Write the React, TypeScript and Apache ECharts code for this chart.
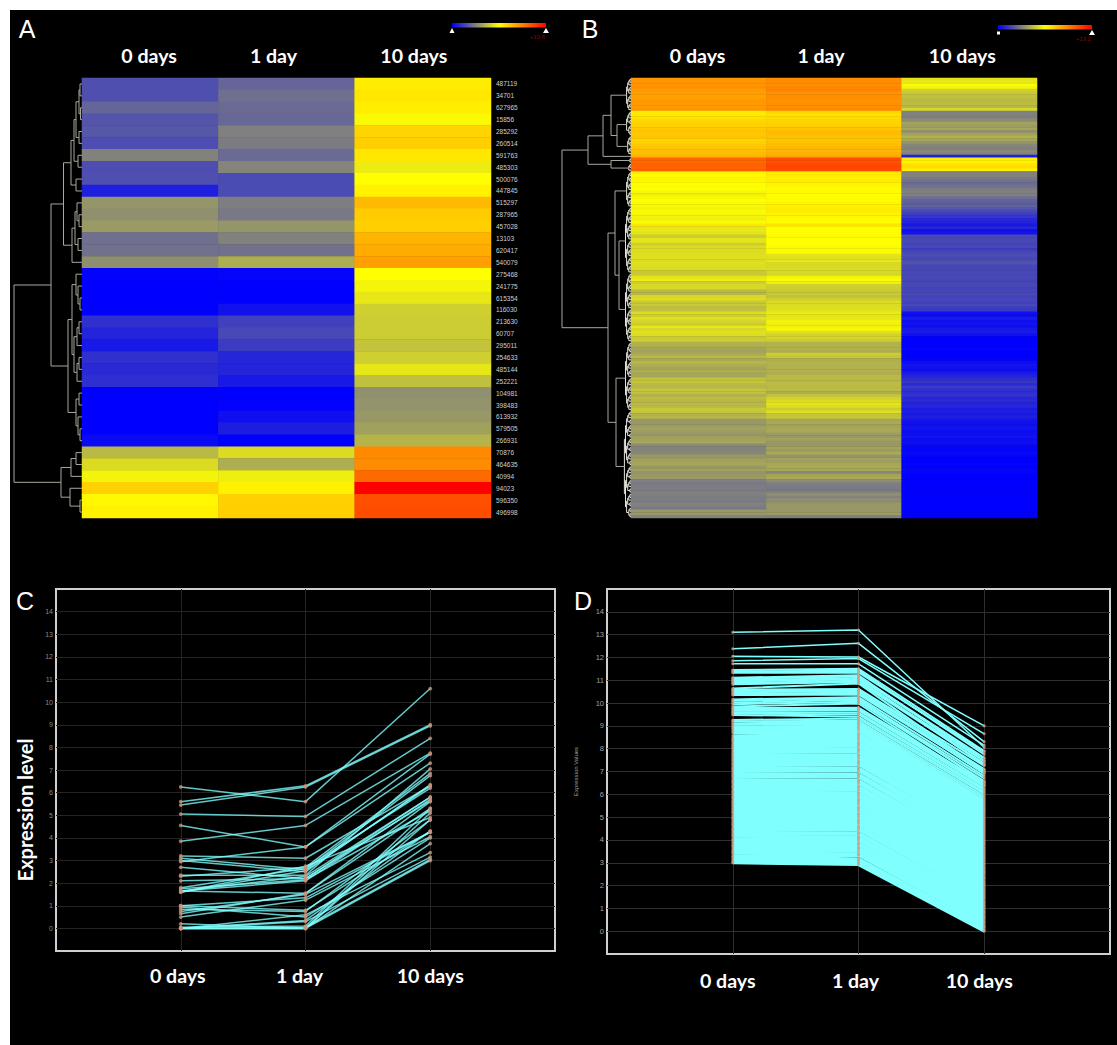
import React, { useEffect, useRef } from "react";
import * as echarts from "echarts";

const dayLabels = ["0 days", "1 day", "10 days"];
const heatColors = ["#0000ff", "#ffff00", "#ff0000"];
const maxA = 10.6;
const maxB = 13.2;

// Panel A and C share the 37 genes
const genes = ["487119","34701","627965","15856","285292","260514","591763","485303","500076","447845","515297","287965","457028","13103","620417","540079","275468","241775","615354","116030","213630","60707","295011","254633","485144","252221","104981","398483","613932","579505","266931","70876","464635","40994","94023","596350","496998"];
const gene0 = [1.65,1.65,2.1,1.75,1.8,1.6,2.7,1.6,1.65,0.65,3.1,3.0,3.2,2.3,2.35,2.95,0.05,0,0,0,1.0,0.75,0.5,1.0,0.85,0.95,0,0,0,0,0.2,3.85,4.55,5.05,6.25,5.45,5.6];
const gene1 = [2.1,2.3,2.2,2.15,2.65,2.55,2.2,2.75,1.55,1.55,2.6,2.5,3.1,2.7,2.35,3.6,0.1,0,0,0.35,1.35,1.5,1.25,0.8,0.75,0.5,0,0.05,0.3,0.6,0,4.55,3.6,4.95,5.6,6.25,6.3];
const gene10 = [5.7,5.8,5.65,5.2,6.2,6.3,5.8,4.9,5.3,5.6,6.75,6.35,6.3,6.85,7.05,7.3,5.3,5.1,4.8,4.3,4.25,4.25,4.05,4.3,4.8,4.0,3.0,3.05,3.15,3.35,3.75,7.75,7.7,8.4,10.6,8.95,9.0];

// Panel B rows, top to bottom
const bRows0 = [
  9.3,9.4,9.3,9.5,9.2,9.1,9.0,9.1,9.3,9.2,9.2,9.4,
  7.1,7.2,7.4,7.6,7.8,7.8,8.0,8.1,8.0,8.2,7.7,7.8,8.0,8.1,8.2,8.3,
  8.6,
  10.6,10.5,10.7,10.6,10.8,
  6.9,6.7,6.9,6.8,6.6,6.5,6.6,6.4,6.2,6.4,6.6,6.5,6.4,6.3,6.5,6.4,6.3,6.2,6.5,7.2,
  6.0,6.0,5.9,5.3,5.9,5.9,5.3,5.7,5.7,5.7,5.8,5.8,5.7,5.8,5.7,5.7,5.2,5.2,5.9,6.1,5.3,5.6,5.6,4.8,4.7,5.6,5.7,5.2,5.2,4.9,5.0,5.7,5.3,5.8,5.5,5.3,6.0,5.6,5.8,5.7,5.2,5.3,4.6,4.5,4.3,4.2,4.4,4.8,4.4,4.7,4.5,4.3,4.5,4.3,
  4.3,5.0,5.1,4.8,4.7,5.1,5.0,4.6,4.9,4.7,4.8,4.7,5.2,5.1,4.6,4.7,3.9,3.9,4.0,4.2,4.1,3.9,4.1,4.2,4.3,3.6,3.4,3.4,3.5,3.9,4.1,4.2,4.3,3.9,4.2,3.8,3.9,4.0,3.3,3.1,3.2,3.2,3.3,3.3,3.2,3.2,3.3,3.3,3.1,3.9,3.9,3.4,
];
const bRows1 = [
  9.6,9.6,9.5,9.7,9.8,9.4,9.5,9.5,9.4,9.5,9.5,9.7,
  7.6,7.4,7.5,7.7,7.8,7.9,8.1,8.3,8.3,8.2,8.1,8.2,8.3,8.5,8.4,8.6,
  8.9,
  11.2,11.1,11.3,11.4,11.3,
  7.1,7.2,7.0,7.1,6.9,6.8,6.7,6.7,6.6,6.7,6.7,6.8,7.0,7.1,7.1,6.9,6.8,6.7,6.7,7.3,
  6.6,6.6,6.7,6.7,6.6,6.6,6.6,6.5,6.5,6.5,5.9,5.8,6.0,5.6,5.6,5.7,5.6,5.5,6.3,6.5,6.2,5.4,5.3,5.2,5.2,5.0,5.3,5.7,5.7,5.7,5.8,6.1,5.9,6.0,6.3,6.2,6.3,6.4,5.8,5.4,5.5,5.3,4.6,4.6,4.6,4.5,5.3,5.1,4.5,4.6,4.6,4.6,4.6,4.5,
  4.8,4.8,4.8,4.9,4.8,4.9,4.5,5.0,5.4,5.7,5.9,5.7,5.3,5.8,5.1,5.1,4.3,4.4,4.2,4.3,4.4,4.0,3.9,4.2,3.9,3.9,4.2,4.0,4.4,3.8,4.2,4.1,4.3,4.4,4.3,3.5,4.2,4.4,3.7,3.3,3.2,3.1,3.3,3.7,3.4,3.7,3.8,3.9,3.9,3.9,4.0,3.3,
];
const bRows10 = [
  5.9,6.0,6.5,6.3,5.4,5.2,5.0,4.9,4.8,4.9,4.8,5.6,
  3.3,3.3,3.4,3.6,4.2,4.0,4.3,3.7,4.2,4.6,4.3,3.8,3.5,3.3,3.6,3.4,
  0.8,
  7.0,6.9,7.3,7.5,7.0,
  3.3,3.4,3.1,2.9,2.8,2.9,3.2,3.3,3.3,2.9,2.6,2.4,2.5,2.2,1.9,1.6,1.4,1.0,0.9,0.6,
  1.0,0.4,0.5,1.9,1.9,1.9,1.7,1.9,1.6,1.9,2.0,1.9,2.0,2.1,1.8,1.8,1.9,1.8,1.9,1.8,1.8,1.9,1.7,1.8,1.9,1.7,1.8,1.7,1.9,1.6,1.5,0.4,0.3,0.7,0.4,0.5,0.4,0.6,0.7,0.4,0,0,0,0,0.1,0,0,0,0.1,0.3,0.5,0.4,0.4,0.7,
  0.9,1.2,1.4,1.1,1.5,1.2,1.2,1.3,1.0,1.1,0.9,1.0,0.7,0.8,0.7,0.8,0.5,0.4,0.4,0.5,0.3,0.4,0.5,0.3,0.4,0.2,0.1,0.1,0.2,0.1,0,0,0.05,0,0.1,0.1,0,0,0,0,0,0,0,0,0,0,0,0,0,0,0,0,
];

// Panel D profiles
const dLines0 = [3.00,3.05,3.14,3.23,3.31,3.42,3.50,3.59,3.70,3.78,3.88,3.97,4.05,4.16,4.24,4.33,4.43,4.51,4.62,4.70,4.79,4.90,4.98,5.07,5.18,5.26,5.35,5.45,5.54,5.63,5.71,5.82,5.90,6.00,6.09,6.17,6.28,6.36,6.46,6.55,6.63,6.74,6.82,6.91,7.01,7.10,7.18,7.29,7.37,7.47,7.55,7.65,7.74,7.83,7.92,8.02,8.10,8.19,8.30,8.38,8.47,8.57,8.70,8.79,8.88,8.96,9.05,9.12,9.20,9.26,9.48,9.54,9.60,9.66,9.72,9.78,9.85,9.95,10.02,10.10,10.16,10.35,10.41,10.47,10.53,10.58,10.64,10.82,10.88,10.94,11.00,11.06,11.11,11.33,11.39,11.45,11.72,11.85,12.05,12.38,13.10];
const dLines1 = [2.92,3.02,3.12,3.18,3.33,3.40,3.52,3.62,3.68,3.80,3.86,3.99,4.08,4.14,4.26,4.31,4.45,4.53,4.60,4.72,4.81,4.88,5.00,5.10,5.16,5.28,5.37,5.43,5.56,5.65,5.73,5.80,5.92,6.02,6.07,6.19,6.30,6.34,6.48,6.57,6.61,6.76,6.84,6.89,7.03,7.12,7.16,7.31,7.39,7.45,7.57,7.67,7.72,7.85,7.94,8.00,8.12,8.21,8.28,8.40,8.49,8.59,8.68,8.81,8.90,8.98,9.07,9.14,9.22,9.32,9.40,9.50,9.58,9.68,9.74,9.80,9.98,10.06,10.14,10.20,10.26,10.38,10.45,10.52,10.58,10.62,10.86,10.92,10.98,11.04,11.10,11.16,11.22,11.34,11.42,11.50,11.72,11.95,12.02,12.62,13.20];
const dLines10 = [0.00,0.05,0.15,0.22,0.33,0.42,0.52,0.60,0.68,0.78,0.86,0.96,1.05,1.12,1.22,1.30,1.41,1.49,1.57,1.66,1.75,1.84,1.93,2.02,2.10,2.19,2.29,2.36,2.46,2.55,2.62,2.72,2.80,2.90,2.98,3.07,3.16,3.24,3.33,3.41,3.50,3.59,3.67,3.77,3.85,3.94,4.02,4.11,4.20,4.29,4.38,4.46,4.54,4.63,4.71,4.80,4.89,4.97,5.06,5.15,5.24,5.32,5.40,5.49,5.58,5.66,5.75,5.83,5.92,6.02,6.10,6.18,6.25,6.34,6.42,6.50,6.40,6.58,6.70,6.52,6.80,6.95,7.05,6.90,7.10,7.25,7.00,7.35,7.45,7.30,7.55,7.60,7.45,7.85,7.75,7.90,8.15,8.65,9.00,8.30,8.05];
const dLineWidths = [3, 2, 1.5]; // dense body, upper band, isolated top profiles

// Cluster trees: [linkage height, child, child...], a number is a row index
type TreeNode = number | any[];
const treeA: TreeNode = [68,
  [31,
    [18.5,
      [11, [8, [6, [3, [2, 0, 1], [1.5, 2, 3]], [3, 4, 5]], [4, 6, 7]], [6, 8, 9]],
      [10, [7, [5, 10, [3, 11, 12]], [4, 13, 14]], 15]],
    [14,
      [10, [6, 16, [4, 17, [2, 18, 19]]], [8, [5, [3, 20, 21], 22], [5, [3, 23, 24], 25]]],
      [6, [3, 26, 27], [4, 28, [2, 29, 30]]]]],
  [21, [11, [6, 31, 32], 33], [12, 34, [2, 35, 36]]]];

function span(from: number, to: number): TreeNode {
  if (from === to) return from;
  const size = to - from + 1;
  const mid = Math.floor((from + to) / 2);
  return [Math.min(8, 1.1 * Math.ceil(Math.log2(size))), span(from, mid), span(mid + 1, to)];
}
const treeB: TreeNode = [69,
  [43,
    [28, [20, span(0, 11), [14, span(12, 20), span(21, 27)]], 28],
    [20, span(29, 30), span(31, 33)]],
  [23,
    [16, span(34, 46), [12, span(47, 70), span(71, 95)]],
    [15, span(96, 120), span(121, 159)]]];

function treeSegments(node: TreeNode, out: number[][], fringeBelow: number): { h: number; y: number } {
  if (typeof node === "number") return { h: 0, y: node + 0.5 };
  const [h, ...kids] = node;
  const placed = kids.map((k: TreeNode) => treeSegments(k, out, fringeBelow));
  const ys = placed.map((p: any) => p.y);
  const top = Math.min(...ys);
  const bottom = Math.max(...ys);
  const fringe = h <= fringeBelow ? 1 : 0;
  out.push([h, top, h, bottom, fringe]);
  placed.forEach((p: any) => out.push([p.h, p.y, h, p.y, fringe]));
  return { h, y: (top + bottom) / 2 };
}

const LABEL = "Lato, 'Open Sans', sans-serif";
const SMALL = "'Liberation Sans', Arial, sans-serif";

function dayAxisLabel(shifts: number[], margin: number) {
  const rich: any = {};
  shifts.forEach((s, i) => {
    rich["d" + i] = { color: "#fff", fontFamily: LABEL, fontWeight: "bold", fontSize: 19.6, padding: [0, s * 2, 0, 0] };
  });
  return {
    show: true,
    margin,
    interval: 0,
    rich,
    formatter: (v: any, i: number) => {
      const idx = typeof v === "number" ? v : i;
      return dayLabels[idx] ? `{d${idx}|${dayLabels[idx]}}` : "";
    },
  };
}

function heatCells(a: number[], b: number[], c: number[]) {
  const out: number[][] = [];
  [a, b, c].forEach((col, x) => col.forEach((v, y) => out.push([x, y, v])));
  return out;
}

function profileSeries(
  a: number[], b: number[], c: number[], axis: number, widthOf: (v: number) => number, opacity: number, dot: number, dotColor: string,
) {
  const lines = a.map((v, i) => ({
    type: "line", xAxisIndex: axis, yAxisIndex: axis, silent: true, symbol: "none", z: 3,
    data: [[0, v], [1, b[i]], [2, c[i]]],
    lineStyle: { color: "#80ffff", width: widthOf(v), opacity },
  }));
  const points: number[][] = [];
  [a, b, c].forEach((col, x) => col.forEach((v) => points.push([x, v])));
  return [...lines, {
    type: "scatter", xAxisIndex: axis, yAxisIndex: axis, silent: true, symbol: "circle", symbolSize: dot, z: 4,
    data: points, itemStyle: { color: dotColor },
  }];
}

function profileAxes(shifts: number[], margin: number, gridColor: string, labelColor: string, labelSize: number, name: string, nameStyle: any, nameGap: number) {
  return {
    x: {
      type: "value", min: -1, max: 3, interval: 1,
      axisLine: { show: false }, axisTick: { show: false },
      splitLine: { show: true, showMinLine: false, showMaxLine: false, lineStyle: { color: gridColor, width: 1 } },
      axisLabel: dayAxisLabel(shifts, margin),
    },
    y: {
      type: "value", min: -1, max: 15, interval: 1, name, nameLocation: "middle", nameGap, nameTextStyle: nameStyle,
      axisLine: { show: false }, axisTick: { show: false },
      splitLine: { show: true, showMinLine: false, showMaxLine: false, lineStyle: { color: gridColor, width: 1 } },
      axisLabel: {
        color: labelColor, fontSize: labelSize, fontFamily: SMALL, margin: 3,
        formatter: (v: number) => (v < 0 || v > 14 ? "" : String(v)),
      },
    },
  };
}

function colorBar(x: number, y: number, w: number, label: string, leftSquare: boolean) {
  const gradient = new echarts.graphic.LinearGradient(0, 0, 1, 0, [
    { offset: 0, color: heatColors[0] },
    { offset: 0.5, color: heatColors[1] },
    { offset: 1, color: heatColors[2] },
  ]);
  const items: any[] = [
    { type: "rect", shape: { x, y, width: w, height: 4.5 }, style: { fill: gradient } },
    { type: "polygon", shape: { points: [[x + w - 3, y + 10], [x + w + 3, y + 10], [x + w, y + 5]] }, style: { fill: "#fff" } },
    { type: "text", x: x + w - 1, y: y + 10.5, style: { text: label, fill: "#8f0000", fontSize: 6, fontFamily: SMALL, textAlign: "right" } },
  ];
  items.push(leftSquare
    ? { type: "rect", shape: { x: x - 1, y: y + 6.5, width: 3, height: 3 }, style: { fill: "#fff" } }
    : { type: "polygon", shape: { points: [[x - 2.5, y + 10], [x + 2.5, y + 10], [x, y + 5]] }, style: { fill: "#fff" } });
  return items;
}

function panelLetter(text: string, x: number, y: number) {
  return { type: "text", x, y, style: { text, fill: "#fff", fontSize: 25, fontFamily: SMALL, textAlign: "center", textVerticalAlign: "middle" } };
}

function dendroSeries(segments: number[][], axis: number) {
  return {
    type: "custom", xAxisIndex: axis, yAxisIndex: axis, silent: true, clip: false, z: 3,
    encode: { x: [0, 2], y: [1, 3] },
    data: segments,
    renderItem: (_p: any, api: any) => {
      const a = api.coord([api.value(0), api.value(1)]);
      const b = api.coord([api.value(2), api.value(3)]);
      return {
        type: "line",
        shape: { x1: a[0], y1: a[1], x2: b[0], y2: b[1] },
        style: { stroke: api.value(4) ? "#e2e2da" : "#a8a89e", lineWidth: 1, fill: "none" },
      };
    },
  };
}

export default function App() {
  const ref = useRef<HTMLDivElement>(null);
  useEffect(() => {
    const chart = echarts.init(ref.current!, undefined, { renderer: "svg" });
    const segA: number[][] = [];
    treeSegments(treeA, segA, 0);
    const segB: number[][] = [];
    treeSegments(treeB, segB, 8.2);
    const rowIds = bRows0.map((_, i) => String(i));
    const axC = profileAxes([3, 6, 0], 14, "#242424", "#8a8a8a", 7, "Expression level",
      { color: "#fff", fontFamily: LABEL, fontWeight: "bold", fontSize: 20, padding: [0, 80, 0, 0] }, 21);
    const axD = profileAxes([5, 3, 5], 16, "#2e2e2e", "#a0a0a0", 7.5, "Expression Values",
      { color: "#a0a0a0", fontFamily: SMALL, fontSize: 6 }, 28);
    const plainCat = (data: string[]) => ({
      type: "category", data, axisLine: { show: false }, axisTick: { show: false }, splitLine: { show: false },
    });
    const hidden = (max: number, inverse: boolean) => ({ type: "value", min: 0, max, inverse, show: false, splitLine: { show: false } });

    chart.setOption({
      animation: false,
      backgroundColor: "#ffffff",
      grid: [
        { left: 82, top: 78, width: 409, height: 440 },
        { left: 631, top: 78, width: 406, height: 440 },
        { left: 12, top: 78, width: 70, height: 440 },
        { left: 560, top: 78, width: 71, height: 440 },
        { left: 56, top: 589, width: 499, height: 362, show: true, borderColor: "#cfcfcf", borderWidth: 2, backgroundColor: "transparent" },
        { left: 607, top: 589, width: 503, height: 365, show: true, borderColor: "#cfcfcf", borderWidth: 2, backgroundColor: "transparent" },
      ],
      xAxis: [
        { ...plainCat(dayLabels), gridIndex: 0, position: "top", axisLabel: dayAxisLabel([1, 13, 9], 13) },
        { ...plainCat(dayLabels), gridIndex: 1, position: "top", axisLabel: dayAxisLabel([1, 13, 7], 13) },
        { ...hidden(70, true), gridIndex: 2 },
        { ...hidden(71, true), gridIndex: 3 },
        { ...axC.x, gridIndex: 4 },
        { ...axD.x, gridIndex: 5 },
      ],
      yAxis: [
        { ...plainCat(genes), gridIndex: 0, inverse: true, position: "right",
          axisLabel: { color: "#d0d0d0", fontSize: 6.5, fontFamily: SMALL, margin: 5, interval: 0 } },
        { ...plainCat(rowIds), gridIndex: 1, inverse: true, axisLabel: { show: false } },
        { ...hidden(genes.length, true), gridIndex: 2 },
        { ...hidden(rowIds.length, true), gridIndex: 3 },
        { ...axC.y, gridIndex: 4 },
        { ...axD.y, gridIndex: 5 },
      ],
      visualMap: [
        { show: false, type: "continuous", seriesIndex: 0, dimension: 2, min: 0, max: maxA, inRange: { color: heatColors } },
        { show: false, type: "continuous", seriesIndex: 1, dimension: 2, min: 0, max: maxB, inRange: { color: heatColors } },
      ],
      series: [
        { type: "heatmap", xAxisIndex: 0, yAxisIndex: 0, silent: true, data: heatCells(gene0, gene1, gene10), progressive: 0 },
        { type: "heatmap", xAxisIndex: 1, yAxisIndex: 1, silent: true, data: heatCells(bRows0, bRows1, bRows10), progressive: 0 },
        dendroSeries(segA, 2),
        dendroSeries(segB, 3),
        ...profileSeries(gene0, gene1, gene10, 4, () => 1.5, 0.78, 3.8, "#c8937d"),
        ...profileSeries(dLines0, dLines1, dLines10, 5, (v) => dLineWidths[v < 9 ? 0 : v < 11.6 ? 1 : 2], 1, 3, "#d09a80"),
      ],
      graphic: [
        { type: "rect", z: -10, shape: { x: 10, y: 10, width: 1107, height: 1035 }, style: { fill: "#000" } },
        ...colorBar(452, 23, 94, "+10.6", false),
        ...colorBar(998, 25, 94, "+13.2", true),
        panelLetter("A", 27, 29),
        panelLetter("B", 590, 29),
        panelLetter("C", 25, 601),
        panelLetter("D", 583, 601),
      ],
    });
    return () => chart.dispose();
  }, []);
  return <div ref={ref} style={{ position: "absolute", left: 0, top: 0, width: 1117, height: 1045 }} />;
}
